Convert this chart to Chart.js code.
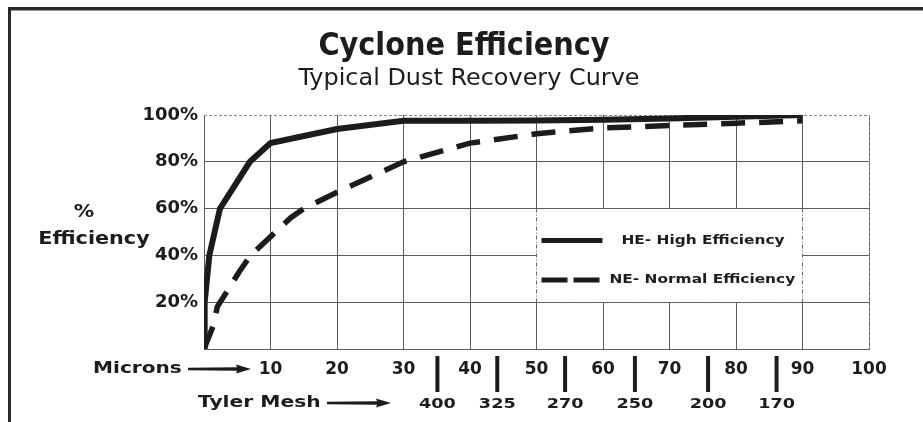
<!DOCTYPE html>
<html><head><meta charset="utf-8">
<script src="https://cdn.jsdelivr.net/npm/chart.js@4.4.0/dist/chart.umd.min.js"></script>
<style>html,body{margin:0;padding:0;background:#fff;}#wrap{width:923px;height:422px;}</style>
</head><body><div id="wrap"><canvas id="c" width="923" height="422"></canvas></div>
<script>
// ---- data ----
const titleText = 'Cyclone Efficiency';
const subtitleText = 'Typical Dust Recovery Curve';
const seriesNames = ['HE- High Efficiency', 'NE- Normal Efficiency'];
const heMicrons    = [0, 0.1, 0.8, 2.4, 6.9, 10, 20, 30, 40, 50, 60, 70, 80, 90];
const heEfficiency = [0, 20, 40, 60, 80, 88, 94, 97.5, 97.5, 97.6, 98, 98.5, 99.3, 100];
const neMicrons    = [0, 1.4, 2, 5.3, 7, 10, 13, 15, 20, 30, 40, 50, 60, 70, 80, 90];
const neEfficiency = [0, 10, 18, 33, 40, 48, 56, 60, 67, 80, 88, 92, 94.5, 95.5, 96.5, 97.5];
const micronTickLabels = ['', '10', '20', '30', '40', '50', '60', '70', '80', '90', '100'];
const efficiencyTickLabels = ['', '20%', '40%', '60%', '80%', '100%'];
const meshMicrons = [35.1, 44.1, 54.3, 64.8, 75.8, 86.1];
const meshLabels  = ['400', '325', '270', '250', '200', '170'];
const yAxisLabel = ['%', 'Efficiency'];
const micronsLabel = 'Microns';
const meshLabel = 'Tyler Mesh';

const INK = '#1c1c1c';
const GRID = '#5a5a5a';

function wideText(ctx, text, x, y, size, sx, align, weight, family) {
  ctx.save();
  ctx.font = (weight || 'bold') + ' ' + size + 'px ' + (family || '"DejaVu Sans", sans-serif');
  ctx.textBaseline = 'middle';
  ctx.fillStyle = INK;
  const w = ctx.measureText(text).width * sx;
  const left = align === 'center' ? x - w / 2 : (align === 'right' ? x - w : x);
  ctx.translate(left, y);
  ctx.scale(sx, 1);
  ctx.textAlign = 'left';
  ctx.fillText(text, 0, 0);
  ctx.restore();
}
function arrow(ctx, x1, x2, y) {
  ctx.save();
  ctx.fillStyle = INK;
  ctx.beginPath();
  ctx.moveTo(x1, y - 1.2);
  ctx.lineTo(x2 - 14, y - 1.8);
  ctx.lineTo(x2 - 15, y - 4.5);
  ctx.lineTo(x2, y);
  ctx.lineTo(x2 - 15, y + 4.5);
  ctx.lineTo(x2 - 14, y + 1.8);
  ctx.lineTo(x1, y + 1.2);
  ctx.closePath();
  ctx.fill();
  ctx.restore();
}

const decor = {
  id: 'decor',
  beforeDraw(chart) {
    const ctx = chart.ctx;
    ctx.save();
    ctx.fillStyle = '#fff';
    ctx.fillRect(0, 0, chart.width, chart.height);
    ctx.fillStyle = '#2a2a2a';
    ctx.fillRect(8, 7, chart.width - 8, 3);
    ctx.fillRect(8, 7, 3, chart.height - 7);
    ctx.fillStyle = '#9a9a9a';
    ctx.fillRect(11, 10, chart.width - 11, 1);
    ctx.restore();
  },
  beforeDatasetsDraw(chart) {
    const ctx = chart.ctx, xs = chart.scales.x, ys = chart.scales.y;
    const a = chart.chartArea;
    ctx.save();
    // dotted top and right edges of the grid
    ctx.strokeStyle = '#8a8a8a';
    ctx.lineWidth = 1;
    ctx.setLineDash([3, 2]);
    ctx.beginPath();
    ctx.moveTo(a.left, Math.floor(a.top) + 0.5);
    ctx.lineTo(a.right, Math.floor(a.top) + 0.5);
    ctx.moveTo(Math.floor(a.right) + 0.5, a.top);
    ctx.lineTo(Math.floor(a.right) + 0.5, a.bottom);
    ctx.stroke();
    // legend box
    const bx0 = Math.floor(xs.getPixelForValue(50)) + 0.5;
    const bx1 = Math.floor(xs.getPixelForValue(90)) + 0.5;
    const by0 = Math.floor(ys.getPixelForValue(60)) + 0.5;
    const by1 = Math.floor(ys.getPixelForValue(20)) + 0.5;
    ctx.setLineDash([]);
    ctx.fillStyle = '#fff';
    ctx.fillRect(bx0 - 0.5, by0 + 0.5, bx1 - bx0 + 1, by1 - by0 - 1);
    ctx.setLineDash([4, 2, 1, 2]);
    ctx.strokeStyle = '#666';
    ctx.beginPath();
    ctx.moveTo(bx0, by0); ctx.lineTo(bx0, by1); ctx.lineTo(bx1, by1); ctx.lineTo(bx1, by0);
    ctx.stroke();
    ctx.restore();
  },
  afterDatasetsDraw(chart) {
    const ctx = chart.ctx, xs = chart.scales.x, ys = chart.scales.y;
    const bx0 = xs.getPixelForValue(50);
    const by0 = ys.getPixelForValue(60);
    ctx.save();
    // legend samples
    ctx.strokeStyle = INK;
    ctx.lineWidth = 5;
    ctx.beginPath();
    ctx.moveTo(bx0 + 5, by0 + 32); ctx.lineTo(bx0 + 66, by0 + 32);
    ctx.stroke();
    ctx.setLineDash([26, 6]);
    ctx.beginPath();
    ctx.moveTo(bx0 + 5, by0 + 71.5); ctx.lineTo(bx0 + 63, by0 + 71.5);
    ctx.stroke();
    ctx.restore();
    wideText(ctx, seriesNames[0], bx0 + 85, by0 + 32, 12.5, 1.23, 'left');
    wideText(ctx, seriesNames[1], bx0 + 73, by0 + 71.5, 12.5, 1.23, 'left');

    // titles
    wideText(ctx, titleText, 464, 47, 32, 1.0, 'center', 'bold', '"DejaVu Sans Condensed", "DejaVu Sans", sans-serif');
    wideText(ctx, subtitleText, 469, 79, 23, 1.04, 'center', 'normal', '"DejaVu Sans", sans-serif');

    // y axis caption
    wideText(ctx, yAxisLabel[0], 84, 213, 17, 1.2, 'center');
    wideText(ctx, yAxisLabel[1], 94, 240, 17, 1.22, 'center');

    // microns and mesh captions with arrows
    wideText(ctx, micronsLabel, 93, 369, 15, 1.34, 'left');
    arrow(ctx, 188, 251, 369);
    wideText(ctx, meshLabel, 198, 403, 15, 1.35, 'left');
    arrow(ctx, 327, 391, 403);

    // mesh bars and labels
    meshMicrons.forEach((m, i) => {
      const px = xs.getPixelForValue(m);
      ctx.save();
      ctx.fillStyle = INK;
      ctx.fillRect(px - 2, 356, 4, 36);
      ctx.restore();
      wideText(ctx, meshLabels[i], px, 404, 14, 1.26, 'center');
    });
  }
};

new Chart(document.getElementById('c'), {
  type: 'scatter',
  data: {
    datasets: [
      {
        label: seriesNames[0],
        data: heMicrons.map((m, i) => ({ x: m, y: heEfficiency[i] })),
        showLine: true, borderColor: INK, borderWidth: 6, pointRadius: 0,
        borderJoinStyle: 'miter', tension: 0, fill: false
      },
      {
        label: seriesNames[1],
        data: neMicrons.map((m, i) => ({ x: m, y: neEfficiency[i] })),
        showLine: true, borderColor: INK, borderWidth: 5.5, pointRadius: 0,
        borderDash: [24, 14], tension: 0, fill: false
      }
    ]
  },
  options: {
    responsive: false,
    animation: false,
    devicePixelRatio: 1,
    layout: { padding: { left: 0, top: 115, right: 54, bottom: 33 } },
    plugins: { legend: { display: false }, title: { display: false }, tooltip: { enabled: false } },
    scales: {
      x: {
        type: 'linear', min: 0, max: 100,
        afterFit: s => { s.height = 40; },
        grid: { color: GRID, lineWidth: 1, drawTicks: false },
        border: { display: true, color: GRID, width: 1 },
        ticks: {
          stepSize: 10, padding: 10, color: INK, maxRotation: 0, autoSkip: false,
          font: { family: '"DejaVu Sans", sans-serif', size: 17, weight: 'bold' },
          callback: (v) => micronTickLabels[Math.round(v / 10)]
        }
      },
      y: {
        type: 'linear', min: 0, max: 100,
        afterFit: s => { s.width = 204; },
        grid: {
          color: c => (c.tick && c.tick.value === 100) ? 'rgba(0,0,0,0)' : GRID,
          lineWidth: 1, drawTicks: false
        },
        border: { display: true, color: GRID, width: 1 },
        ticks: {
          stepSize: 20, padding: 6, color: INK,
          font: { family: '"DejaVu Sans", sans-serif', size: 18, weight: 'bold' },
          callback: (v) => efficiencyTickLabels[Math.round(v / 20)]
        }
      }
    }
  },
  plugins: [decor]
});
</script>
</body></html>
